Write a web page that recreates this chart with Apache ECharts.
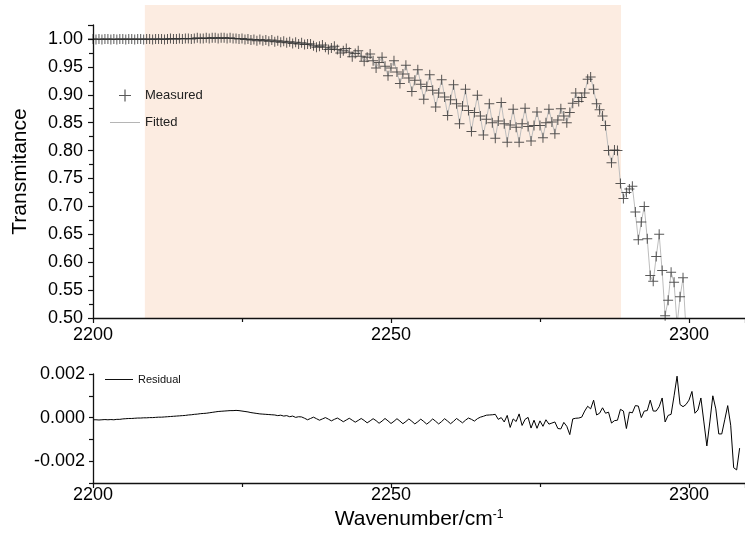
<!DOCTYPE html>
<html>
<head>
<meta charset="utf-8">
<script src="https://cdn.jsdelivr.net/npm/echarts/dist/echarts.min.js"></script>
<style>
  html, body { margin: 0; padding: 0; background: #fff; }
  #chart { width: 745px; height: 544px; }
</style>
</head>
<body>
<div id="chart"></div>
<script>
// spectrum sampled every 0.5 cm-1 from 2200 cm-1
const startWavenumber = 2200
const step = 0.5
const fitStart = 2208.7
const fitEnd = 2288.6

const measured = [
  1.000, 0.999, 1.000, 0.999, 1.000, 1.000, 0.999, 1.000, 0.999, 1.000,
  1.000, 0.999, 1.000, 1.000, 0.999, 1.000, 1.000, 0.999, 1.000, 1.000,
  0.999, 1.000, 1.000, 1.000, 0.999, 1.000, 1.001, 1.000, 1.000, 1.001,
  1.000, 1.001, 1.001, 1.000, 1.001, 1.002, 1.001, 1.001, 1.002, 1.001,
  1.002, 1.002, 1.001, 1.002, 1.002, 1.001, 1.002, 1.001, 1.001, 1.000,
  1.001, 0.999, 1.000, 0.998, 0.999, 0.997, 0.999, 0.997, 0.998, 0.996,
  0.998, 0.995, 0.997, 0.994, 0.996, 0.993, 0.995, 0.992, 0.994, 0.991,
  0.993, 0.990, 0.991, 0.991, 0.988, 0.985, 0.987, 0.989, 0.985, 0.981,
  0.984, 0.987, 0.981, 0.975, 0.979, 0.983, 0.976, 0.968, 0.974, 0.979,
  0.969, 0.960, 0.967, 0.973, 0.961, 0.948, 0.958, 0.967, 0.951, 0.934,
  0.948, 0.961, 0.941, 0.920, 0.937, 0.953, 0.930, 0.906, 0.926, 0.945,
  0.919, 0.892, 0.915, 0.936, 0.908, 0.878, 0.903, 0.927, 0.896, 0.863,
  0.891, 0.918, 0.884, 0.848, 0.880, 0.910, 0.872, 0.834, 0.868, 0.899,
  0.862, 0.828, 0.856, 0.884, 0.850, 0.822, 0.853, 0.886, 0.848, 0.815,
  0.846, 0.874, 0.842, 0.815, 0.848, 0.876, 0.843, 0.817, 0.845, 0.869,
  0.845, 0.823, 0.850, 0.874, 0.851, 0.830, 0.855, 0.875, 0.862, 0.850,
  0.868, 0.885, 0.903, 0.888, 0.895, 0.903, 0.928, 0.932, 0.910, 0.884,
  0.873, 0.862, 0.845, 0.800, 0.778, 0.801, 0.800, 0.741, 0.714, 0.725,
  0.731, 0.736, 0.690, 0.640, 0.672, 0.700, 0.642, 0.576, 0.566, 0.610,
  0.650, 0.585, 0.504, 0.532, 0.582, 0.564, 0.490, 0.538, 0.572, 0.480,
  0.450
]

const residual = [
  -0.00010, -0.00010, -0.00011, -0.00010, -0.00009, -0.00010, -0.00009, -0.00010, -0.00008, -0.00008,
  -0.00006, -0.00005, -0.00004, -0.00004, -0.00003, -0.00002, -0.00002, -0.00001, -0.00001, 0.00000,
  0.00000, 0.00001, 0.00002, 0.00002, 0.00003, 0.00004, 0.00005, 0.00006, 0.00007, 0.00008,
  0.00009, 0.00010, 0.00012, 0.00013, 0.00015, 0.00016, 0.00018, 0.00019, 0.00020, 0.00022,
  0.00024, 0.00026, 0.00028, 0.00029, 0.00030, 0.00031, 0.00032, 0.00032, 0.00033, 0.00032,
  0.00030, 0.00028, 0.00026, 0.00023, 0.00021, 0.00019, 0.00017, 0.00016, 0.00015, 0.00014,
  0.00013, 0.00012, 0.00009, 0.00011, 0.00007, 0.00009, 0.00004, 0.00007, 0.00001, 0.00004,
  0.00003, -0.00003, -0.00010, -0.00004, 0.00002, -0.00005, -0.00012, -0.00006, 0.00000, -0.00007,
  -0.00015, -0.00008, -0.00002, -0.00010, -0.00019, -0.00011, -0.00003, -0.00012, -0.00021, -0.00013,
  -0.00004, -0.00013, -0.00024, -0.00015, -0.00005, -0.00014, -0.00026, -0.00016, -0.00004, -0.00015,
  -0.00027, -0.00017, -0.00005, -0.00016, -0.00028, -0.00018, -0.00006, -0.00017, -0.00029, -0.00019,
  -0.00007, -0.00018, -0.00030, -0.00019, -0.00006, -0.00017, -0.00029, -0.00018, -0.00005, -0.00016,
  -0.00028, -0.00017, -0.00004, -0.00014, -0.00024, -0.00012, -0.00002, -0.00008, -0.00016, -0.00005,
  0.00002, 0.00006, 0.00011, 0.00012, 0.00013, 0.00015, -0.00008, 0.00000, -0.00020, 0.00010,
  -0.00045, -0.00006, -0.00018, 0.00017, -0.00036, -0.00008, 0.00001, -0.00048, -0.00012, -0.00049,
  -0.00015, -0.00040, -0.00010, -0.00030, -0.00025, -0.00020, -0.00050, -0.00052, -0.00022, -0.00040,
  -0.00078, -0.00006, -0.00003, -0.00002, 0.00002, 0.00030, 0.00052, 0.00040, 0.00080, 0.00012,
  0.00020, 0.00045, 0.00020, 0.00025, -0.00025, -0.00014, -0.00012, 0.00038, 0.00030, -0.00050,
  0.00025, 0.00022, 0.00055, 0.00053, 0.00000, 0.00030, 0.00032, 0.00080, 0.00030, 0.00030,
  0.00050, 0.00090, -0.00020, 0.00010, 0.00015, 0.00100, 0.00190, 0.00060, 0.00050, 0.00060,
  0.00080, 0.00120, 0.00020, 0.00035, 0.00090, -0.00020, -0.00130, -0.00020, 0.00100, 0.00040,
  -0.00075, -0.00075, -0.00010, 0.00055, -0.00035, -0.00230, -0.00240, -0.00140
]

const xTicks = [2200, 2250, 2300]
const font = 'Liberation Sans, Arial, sans-serif'
const plusIcon = 'path://M4.5,0H5.5V4.5H10V5.5H5.5V10H4.5V5.5H0V4.5H4.5Z'
const lineIcon = 'path://M0,0H30V1H0Z'

const wn = (i) => startWavenumber + i * step
const measuredData = measured.map((t, i) => [wn(i), t])
// residual = measured - fitted
const fittedData = measured.map((t, i) => [wn(i), +(t - residual[i]).toFixed(5)])
const residualData = residual.map((r, i) => [wn(i), r])

const xAxisBase = (gridIndex) => ({
  type: 'value',
  gridIndex: gridIndex,
  min: 2200,
  max: 2309.4,
  interval: 50,
  z: 5,
  axisLine: { onZero: false, lineStyle: { color: '#111', width: 1.3 } },
  axisTick: { length: 5, lineStyle: { color: '#111', width: 1.2 } },
  minorTick: { show: true, splitNumber: 2, length: 4, lineStyle: { color: '#111', width: 1.2 } },
  splitLine: { show: false },
  axisLabel: {
    color: '#000', fontSize: 18, fontFamily: font,
    formatter: (v) => xTicks.indexOf(Math.round(v)) >= 0 ? String(Math.round(v)) : ''
  }
})

const topX = xAxisBase(0)
topX.axisLabel.margin = 8
const bottomX = xAxisBase(1)
bottomX.axisLabel.margin = 3
bottomX.name = '{a|Wavenumber/cm}{b|-1}'
bottomX.nameLocation = 'middle'
bottomX.nameGap = 26
bottomX.nameTextStyle = {
  rich: {
    a: { fontSize: 21, fontFamily: font, color: '#000' },
    b: { fontSize: 12, fontFamily: font, color: '#000', verticalAlign: 'top' }
  }
}

const option = {
  animation: false,
  backgroundColor: '#fff',
  grid: [
    { left: 93, right: 0, top: 25, bottom: 226, outerBoundsMode: 'none' },
    { left: 93, right: 0, top: 374, bottom: 61, outerBoundsMode: 'none' },
    { left: 93, right: 0, top: 5, bottom: 226, outerBoundsMode: 'none' }
  ],
  legend: [
    {
      orient: 'vertical',
      left: 105,
      top: 84,
      itemWidth: 30,
      itemHeight: 12,
      itemGap: 14,
      textStyle: { fontSize: 13, fontFamily: font, color: '#222' },
      data: [{ name: 'Measured', icon: plusIcon }, { name: 'Fitted', icon: lineIcon }]
    },
    {
      left: 100,
      top: 369,
      itemWidth: 28,
      itemHeight: 12,
      textStyle: { fontSize: 11, fontFamily: font, color: '#111' },
      data: [{ name: 'Residual', icon: lineIcon }]
    }
  ],
  xAxis: [
    topX,
    bottomX,
    { type: 'value', gridIndex: 2, min: 2200, max: 2309.4, show: false }
  ],
  yAxis: [
    {
      type: 'value',
      gridIndex: 0,
      min: 0.5,
      max: 1.025,
      interval: 0.05,
      z: 5,
      name: 'Transmitance',
      nameLocation: 'middle',
      nameGap: 62,
      nameTextStyle: { fontSize: 21, fontFamily: font, color: '#000' },
      axisLine: { show: true, onZero: false, lineStyle: { color: '#111', width: 1.3 } },
      axisTick: { show: true, length: 5, lineStyle: { color: '#111', width: 1.2 } },
      minorTick: { show: true, splitNumber: 2, length: 4, lineStyle: { color: '#111', width: 1.2 } },
      splitLine: { show: false },
      axisLabel: {
        color: '#000', fontSize: 18, fontFamily: font, margin: 10,
        formatter: (v) => v > 1.01 ? '' : v.toFixed(2)
      }
    },
    {
      type: 'value',
      gridIndex: 1,
      min: -0.003,
      max: 0.002,
      interval: 0.001,
      z: 5,
      axisLine: { show: true, onZero: false, lineStyle: { color: '#111', width: 1.3 } },
      axisTick: { show: true, length: 4, lineStyle: { color: '#111', width: 1.2 } },
      splitLine: { show: false },
      axisLabel: {
        color: '#000', fontSize: 18, fontFamily: font, margin: 8,
        formatter: (v) => Math.abs(Math.round(v * 1000)) % 2 === 0 ? v.toFixed(3) : ''
      }
    },
    { type: 'value', gridIndex: 2, min: 0, max: 1, show: false }
  ],
  series: [
    {
      name: 'fit range',
      type: 'line',
      xAxisIndex: 2,
      yAxisIndex: 2,
      data: [],
      silent: true,
      markArea: {
        silent: true,
        itemStyle: { color: '#fcece1' },
        data: [[{ xAxis: fitStart }, { xAxis: fitEnd }]]
      }
    },
    {
      name: 'Fitted',
      type: 'line',
      xAxisIndex: 0,
      yAxisIndex: 0,
      data: fittedData,
      symbol: 'none',
      lineStyle: { color: '#bdbdbd', width: 1 },
      itemStyle: { color: '#b5b5b5' },
      z: 2
    },
    {
      name: 'Measured',
      type: 'scatter',
      xAxisIndex: 0,
      yAxisIndex: 0,
      data: measuredData,
      symbol: plusIcon,
      symbolSize: 10,
      itemStyle: { color: '#303030', opacity: 0.8 },
      z: 3
    },
    {
      name: 'Residual',
      type: 'line',
      xAxisIndex: 1,
      yAxisIndex: 1,
      data: residualData,
      symbol: 'none',
      lineStyle: { color: '#000', width: 1 },
      itemStyle: { color: '#000' }
    }
  ]
}

const chart = echarts.init(document.getElementById('chart'))
chart.setOption(option)
</script>
</body>
</html>
